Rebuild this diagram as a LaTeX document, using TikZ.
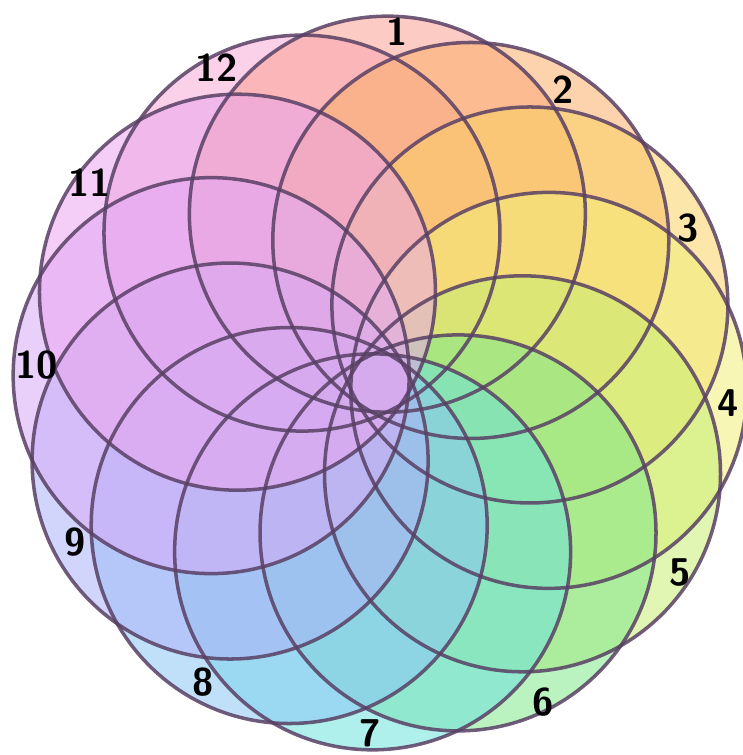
\documentclass[tikz,border=0pt]{standalone}
\usepackage{amsmath,amssymb}
\usepackage{tikz}
\definecolor{cA}{RGB}{250,160,145}
\definecolor{cB}{RGB}{252,175,105}
\definecolor{cC}{RGB}{250,210,100}
\definecolor{cD}{RGB}{242,238,120}
\definecolor{cE}{RGB}{198,238,115}
\definecolor{cF}{RGB}{130,232,140}
\definecolor{cG}{RGB}{110,225,220}
\definecolor{cH}{RGB}{140,198,245}
\definecolor{cI}{RGB}{172,178,248}
\definecolor{cJ}{RGB}{215,170,248}
\definecolor{cK}{RGB}{235,165,238}
\definecolor{cL}{RGB}{247,170,215}
\definecolor{rimcol}{RGB}{88,64,100}

\begin{document}
\begin{tikzpicture}[
 disc/.style={fill opacity=0.55},
 rim/.style={draw=rimcol, line width=1pt, draw opacity=0.85},
 num/.style={font=\sffamily\bfseries\fontsize{11}{12}\selectfont}]
 \useasboundingbox (0,0) rectangle (7.43,7.55);
 \coordinate (O) at (3.80,3.72);
 \begin{scope}[shift={(O)}]
 \coordinate (C1)  at (87.5:1.69);
 \coordinate (C2)  at (57.5:1.69);
 \coordinate (C3)  at (27.5:1.69);
 \coordinate (C4)  at (-2.5:1.69);
 \coordinate (C5)  at (-32.5:1.69);
 \coordinate (C6)  at (-62.5:1.69);
 \coordinate (C7)  at (-92.5:1.69);
 \coordinate (C8)  at (-122.5:1.69);
 \coordinate (C9)  at (-152.5:1.69);
 \coordinate (C10) at (177.5:1.69);
 \coordinate (C11) at (147.5:1.69);
 \coordinate (C12) at (117.5:1.69);
 \end{scope}
 % fills
 \fill[disc, fill=cL] (C12) circle (1.98);
 \fill[disc, fill=cA] (C1)  circle (1.98);
 \fill[disc, fill=cB] (C2)  circle (1.98);
 \fill[disc, fill=cC] (C3)  circle (1.98);
 \fill[disc, fill=cD] (C4)  circle (1.98);
 \fill[disc, fill=cE] (C5)  circle (1.98);
 \fill[disc, fill=cF] (C6)  circle (1.98);
 \fill[disc, fill=cG] (C7)  circle (1.98);
 \fill[disc, fill=cH] (C8)  circle (1.98);
 \fill[disc, fill=cI] (C9)  circle (1.98);
 \fill[disc, fill=cJ] (C10) circle (1.98);
 \fill[disc, fill=cK] (C11) circle (1.98);
 % rims
 \draw[rim] (C1)  circle (1.98);
 \draw[rim] (C2)  circle (1.98);
 \draw[rim] (C3)  circle (1.98);
 \draw[rim] (C4)  circle (1.98);
 \draw[rim] (C5)  circle (1.98);
 \draw[rim] (C6)  circle (1.98);
 \draw[rim] (C7)  circle (1.98);
 \draw[rim] (C8)  circle (1.98);
 \draw[rim] (C9)  circle (1.98);
 \draw[rim] (C10) circle (1.98);
 \draw[rim] (C11) circle (1.98);
 \draw[rim] (C12) circle (1.98);
 % numbers
 \node[num] (L1)  at (3.97,7.23) {1};
 \node[num] (L2)  at (5.63,6.65) {2};
 \node[num] (L3)  at (6.88,5.27) {3};
 \node[num] (L4)  at (7.28,3.52) {4};
 \node[num] (L5)  at (6.80,1.82) {5};
 \node[num] (L6)  at (5.43,0.53) {6};
 \node[num] (L7)  at (3.70,0.22) {7};
 \node[num] (L8)  at (2.03,0.73) {8};
 \node[num] (L9)  at (0.75,2.13) {9};
 \node[num] (L10) at (0.37,3.90) {10};
 \node[num] (L11) at (0.90,5.72) {11};
 \node[num] (L12) at (2.17,6.87) {12};
\end{tikzpicture}
\end{document}
